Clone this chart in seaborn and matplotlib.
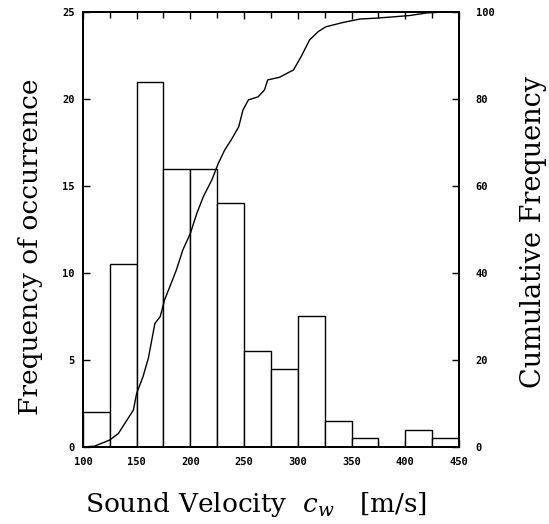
import numpy as np
import pandas as pd
import matplotlib
matplotlib.use("Agg")
import matplotlib.pyplot as plt
import seaborn as sns
from matplotlib.ticker import MultipleLocator

sns.set_theme(style="ticks")
plt.rcParams["mathtext.fontset"] = "custom"
plt.rcParams["mathtext.rm"] = "DejaVu Serif"
plt.rcParams["mathtext.it"] = "DejaVu Serif:italic"
plt.rcParams["text.color"] = "black"
plt.rcParams["axes.labelcolor"] = "black"
plt.rcParams["xtick.color"] = "black"
plt.rcParams["ytick.color"] = "black"

# ---- data ----
bin_edges = [100, 125, 150, 175, 200, 225, 250, 275, 300, 325, 350, 375, 400, 425, 450]
freq = [2.0, 10.5, 21.0, 16.0, 16.0, 14.0, 5.5, 4.5, 7.5, 1.5, 0.5, 0.0, 1.0, 0.5]

cum_x = [100, 111, 125, 133, 139, 147, 150, 156, 161, 167, 172, 176, 181, 187, 193, 200,
         206, 212, 220, 226, 232, 238, 245, 249, 254, 263, 269, 272, 283, 296, 303, 311,
         319, 326, 342, 358, 373, 389, 404, 420, 436, 450]
cum_y = [0.0, 0.2, 1.6, 3.1, 5.4, 8.5, 12.3, 16.2, 20.5, 28.4, 30.0, 33.8, 36.9, 40.7, 45.3, 49.1,
         53.7, 57.5, 61.4, 65.2, 68.3, 70.6, 73.6, 77.5, 79.8, 80.5, 82.1, 84.4, 85.0, 86.7, 89.7, 93.6,
         95.5, 96.6, 97.6, 98.4, 98.6, 98.9, 99.2, 99.8, 100.0, 100.0]

x_ticks = [100, 150, 200, 250, 300, 350, 400, 450]
left_ticks = [0, 5, 10, 15, 20, 25]
right_ticks = [0, 20, 40, 60, 80, 100]

# ---- figure ----
fig = plt.figure(figsize=(5.49, 5.24), dpi=100)
ax = fig.add_axes([0.151, 0.147, 0.685, 0.830])

mids = [(a + b) / 2 for a, b in zip(bin_edges[:-1], bin_edges[1:])]
df = pd.DataFrame({"v": mids, "w": freq})
sns.histplot(data=df, x="v", weights="w", bins=bin_edges, ax=ax,
             color="white", edgecolor="black", linewidth=1.0, alpha=1.0)

ax.set_xlim(100, 450)
ax.set_ylim(0, 25)

ax2 = ax.twinx()
cdf = pd.DataFrame({"x": cum_x, "y": cum_y})
sns.lineplot(data=cdf, x="x", y="y", ax=ax2, color="black", linewidth=1.0)
ax2.set_ylim(0, 100)
ax2.set_xlim(100, 450)

tick_font = dict(family="DejaVu Sans Mono", weight="bold", size=7.5, color="black")

ax.set_xticks(x_ticks)
ax.set_xticklabels([str(t) for t in x_ticks], fontdict=tick_font)
ax.xaxis.set_minor_locator(MultipleLocator(25))
ax.set_yticks(left_ticks)
ax.set_yticklabels([str(t) for t in left_ticks], fontdict=tick_font)
ax2.set_yticks(right_ticks)
ax2.set_yticklabels([str(t) for t in right_ticks], fontdict=tick_font)

ax.tick_params(axis="x", which="both", direction="in", top=True, bottom=True,
               length=5, width=1, color="black", pad=7)
ax.tick_params(axis="x", which="minor", length=4)
ax.tick_params(axis="y", direction="in", length=5, width=1, color="black", pad=6)
ax2.tick_params(axis="y", direction="in", length=5, width=1, color="black", pad=12)

for a in (ax, ax2):
    for s in a.spines.values():
        s.set_color("black")
        s.set_linewidth(1.4)

ax.set_xlabel("Sound Velocity  $c_w$   [m/s]",
              fontdict=dict(family="DejaVu Serif", size=19, color="black"))
ax.set_ylabel("Frequency of occurrence",
              fontdict=dict(family="DejaVu Serif", size=19, color="black"))
ax2.set_ylabel("Cumulative Frequency",
               fontdict=dict(family="DejaVu Serif", size=19.5, color="black"))
ax.xaxis.set_label_coords(0.46, -0.10)
ax.yaxis.set_label_coords(-0.106, 0.46)
ax2.yaxis.set_label_coords(1.162, 0.495)
ax.grid(False)
ax2.grid(False)

fig.savefig("out.png", dpi=100, facecolor="white")
